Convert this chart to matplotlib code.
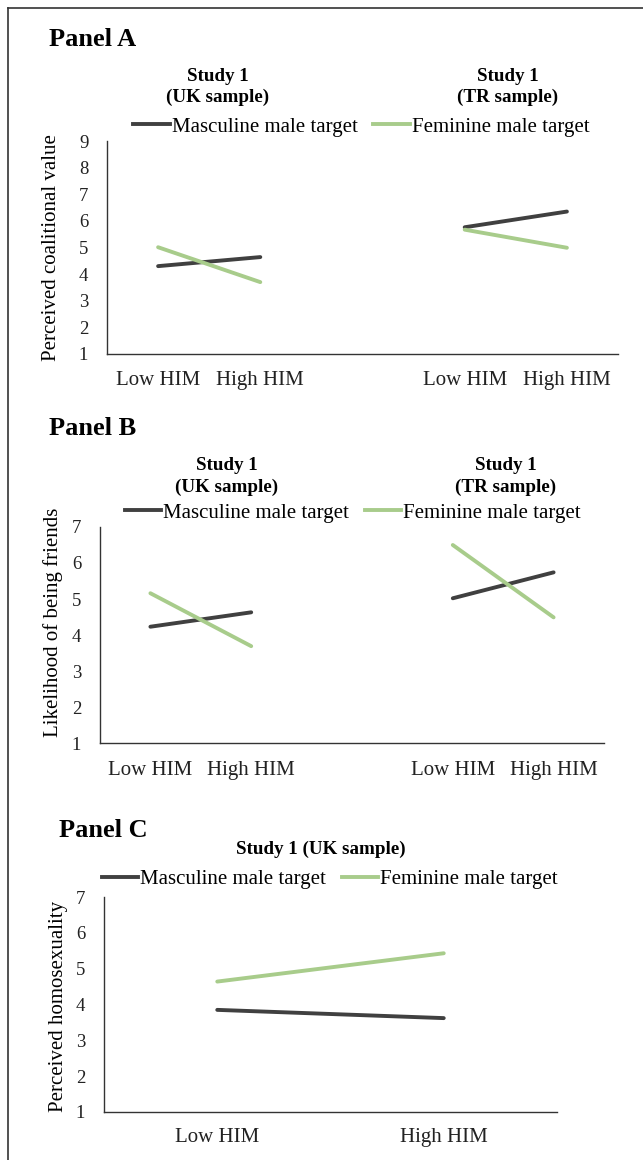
import matplotlib
matplotlib.use("Agg")
import matplotlib.pyplot as plt
from matplotlib.lines import Line2D

plt.rcParams["font.family"] = ["Liberation Serif", "DejaVu Serif"]

W, H = 643, 1160
DARK = "#404040"
GREEN = "#A8CC8B"

# ---- data ----
hi_labels = ["Low HIM", "High HIM"]
series_names = ["Masculine male target", "Feminine male target"]

a_uk_masc = [4.30, 4.64]
a_uk_fem = [5.01, 3.70]
a_tr_masc = [5.76, 6.35]
a_tr_fem = [5.67, 4.99]

b_uk_masc = [4.23, 4.63]
b_uk_fem = [5.16, 3.69]
b_tr_masc = [5.02, 5.74]
b_tr_fem = [6.50, 4.49]

c_uk_masc = [3.85, 3.62]
c_uk_fem = [4.64, 5.43]


def px_rect(left, top, right, bottom):
    return [left / W, 1 - bottom / H, (right - left) / W, (bottom - top) / H]


def ftext(x, y, s, **kw):
    return fig.text(x / W, 1 - y / H, s, **kw)


def style_axes(ax, ymax, xpos, xlabels, xpad):
    for side in ("top", "right"):
        ax.spines[side].set_visible(False)
    for side in ("left", "bottom"):
        ax.spines[side].set_color("#333333")
        ax.spines[side].set_linewidth(1.0)
    ax.set_ylim(1, ymax)
    ax.set_yticks(range(1, ymax + 1))
    ax.set_xticks(xpos)
    ax.set_xticklabels(xlabels)
    ax.tick_params(axis="y", length=0, pad=13.5, labelsize=13.5, labelcolor="#222222")
    ax.tick_params(axis="x", length=0, pad=xpad, labelsize=15, labelcolor="#222222")


def add_legend(ax, cx, cy):
    h1 = Line2D([], [], color=DARK, lw=LW)
    h2 = Line2D([], [], color=GREEN, lw=LW)
    fig.legend([h1, h2], series_names, loc="center", bbox_to_anchor=(cx / W, 1 - cy / H),
               ncol=2, frameon=False, fontsize=15, handlelength=1.75,
               handletextpad=0.1, columnspacing=0.75, borderpad=0, borderaxespad=0)


LW = 2.8

fig = plt.figure(figsize=(W / 100, H / 100), dpi=100)

# outer border (top and left only)
fig.add_artist(Line2D([8 / W, 8 / W], [0, 1 - 8 / H], color="#333333", lw=1.2))
fig.add_artist(Line2D([8 / W, 1], [1 - 8 / H, 1 - 8 / H], color="#333333", lw=1.2))

# ---- Panel A ----
axA = fig.add_axes(px_rect(107, 141, 618, 354))
axA.plot([0, 1], a_uk_masc, color=DARK, lw=LW, solid_capstyle="round")
axA.plot([0, 1], a_uk_fem, color=GREEN, lw=LW, solid_capstyle="round")
axA.plot([3, 4], a_tr_masc, color=DARK, lw=LW, solid_capstyle="round")
axA.plot([3, 4], a_tr_fem, color=GREEN, lw=LW, solid_capstyle="round")
axA.set_xlim(-0.5, 4.5)
style_axes(axA, 9, [0, 1, 3, 4], hi_labels * 2, 12)
ftext(49, 46, "Panel A", fontsize=19, fontweight="bold", va="baseline", ha="left")
ftext(218, 81, "Study 1", fontsize=13.7, fontweight="bold", ha="center", va="baseline")
ftext(218, 102, "(UK sample)", fontsize=13.7, fontweight="bold", ha="center", va="baseline")
ftext(508, 81, "Study 1", fontsize=13.7, fontweight="bold", ha="center", va="baseline")
ftext(508, 102, "(TR sample)", fontsize=13.7, fontweight="bold", ha="center", va="baseline")
add_legend(axA, 361.5, 127)
ftext(52, 248, "Perceived coalitional value", fontsize=15, rotation=90, ha="center", va="center")

# ---- Panel B ----
axB = fig.add_axes(px_rect(100, 527, 604, 743))
axB.plot([0, 1], b_uk_masc, color=DARK, lw=LW, solid_capstyle="round")
axB.plot([0, 1], b_uk_fem, color=GREEN, lw=LW, solid_capstyle="round")
axB.plot([3, 4], b_tr_masc, color=DARK, lw=LW, solid_capstyle="round")
axB.plot([3, 4], b_tr_fem, color=GREEN, lw=LW, solid_capstyle="round")
axB.set_xlim(-0.5, 4.5)
style_axes(axB, 7, [0, 1, 3, 4], hi_labels * 2, 12.7)
ftext(49, 435, "Panel B", fontsize=19, fontweight="bold", va="baseline", ha="left")
ftext(227, 470, "Study 1", fontsize=13.7, fontweight="bold", ha="center", va="baseline")
ftext(227, 492, "(UK sample)", fontsize=13.7, fontweight="bold", ha="center", va="baseline")
ftext(506, 470, "Study 1", fontsize=13.7, fontweight="bold", ha="center", va="baseline")
ftext(506, 492, "(TR sample)", fontsize=13.7, fontweight="bold", ha="center", va="baseline")
add_legend(axB, 353, 513)
ftext(53, 622, "Likelihood of being friends", fontsize=15, rotation=90, ha="center", va="center")

# ---- Panel C ----
axC = fig.add_axes(px_rect(104, 897, 557, 1112))
axC.plot([0, 1], c_uk_masc, color=DARK, lw=LW, solid_capstyle="round")
axC.plot([0, 1], c_uk_fem, color=GREEN, lw=LW, solid_capstyle="round")
axC.set_xlim(-0.5, 1.5)
style_axes(axC, 7, [0, 1], hi_labels, 11.3)
ftext(59, 837, "Panel C", fontsize=19, fontweight="bold", va="baseline", ha="left")
ftext(321, 854, "Study 1 (UK sample)", fontsize=13.7, fontweight="bold", ha="center", va="baseline")
add_legend(axC, 330, 879)
ftext(59, 1006, "Perceived homosexuality", fontsize=15, rotation=90, ha="center", va="center")

fig.savefig("out.png", dpi=100)
